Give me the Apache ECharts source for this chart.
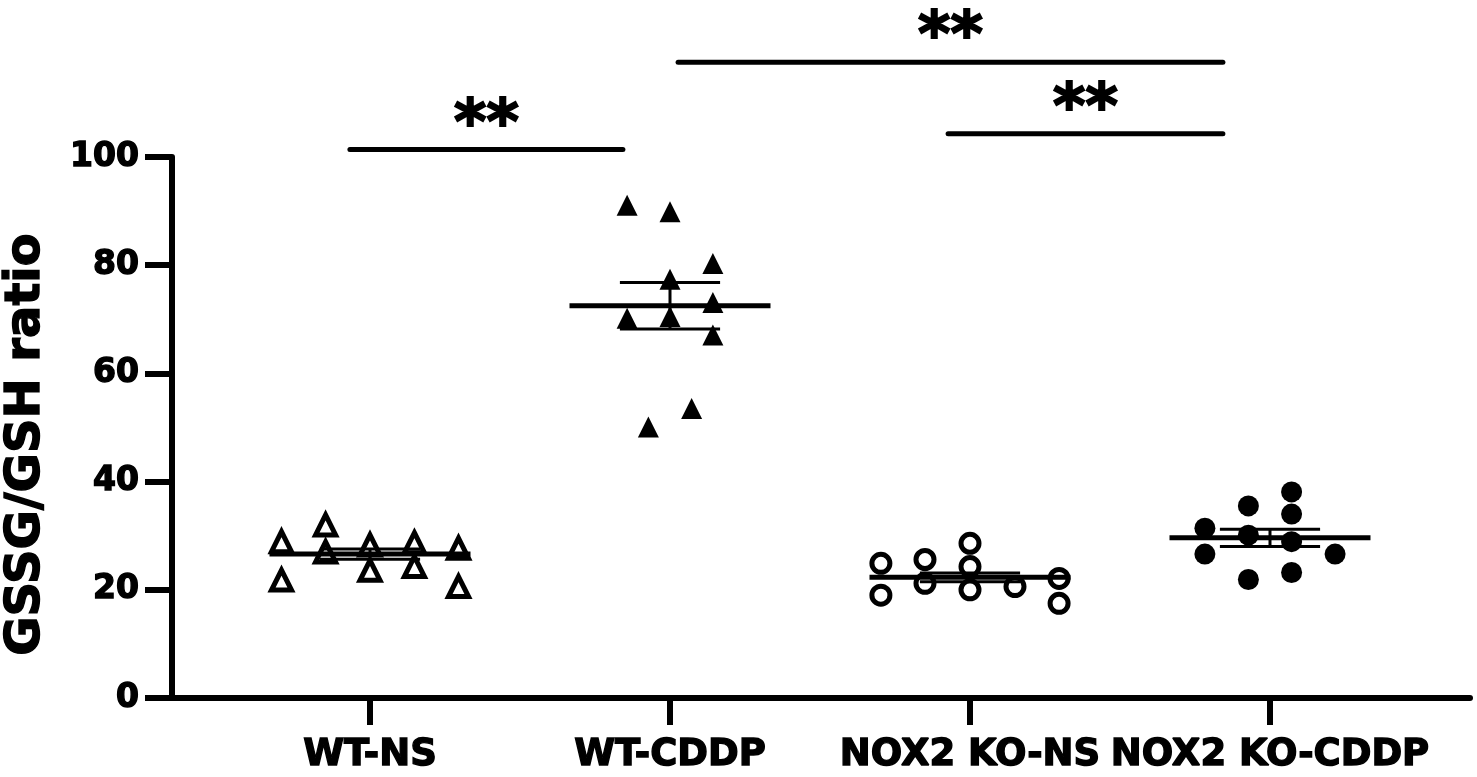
<!DOCTYPE html>
<html><head><meta charset="utf-8">
<script src="https://cdn.jsdelivr.net/npm/echarts@6/dist/echarts.min.js"></script>
<style>html,body{margin:0;padding:0;background:#fff}#c{width:1477px;height:777px}</style>
</head><body><div id="c"></div>
<script>
// ---- data ----
const categories = ['WT-NS', 'WT-CDDP', 'NOX2 KO-NS', 'NOX2 KO-CDDP'];
const yTicks = [0, 20, 40, 60, 80, 100];
const yTitle = 'GSSG/GSH ratio';

// jitter offsets (in category units) and values per group
const wtNsJitter = [-0.295, -0.295, -0.148, -0.148, 0, 0, 0.148, 0.148, 0.295, 0.295];
const wtNsValues = [28.9, 21.8, 32.0, 27.0, 28.3, 23.6, 28.7, 24.3, 27.7, 20.6];

const wtCddpJitter = [-0.143, -0.143, -0.072, 0, 0, 0, 0.072, 0.143, 0.143, 0.143];
const wtCddpValues = [91.1, 70.2, 50.1, 89.9, 77.4, 70.5, 53.5, 80.3, 73.1, 67.1];

const koNsJitter = [-0.297, -0.297, -0.15, -0.15, 0, 0, 0, 0.15, 0.297, 0.297];
const koNsValues = [24.9, 19.0, 25.6, 21.2, 28.6, 24.3, 20.0, 20.6, 22.1, 17.5];

const koCddpJitter = [-0.217, -0.217, -0.072, -0.072, -0.072, 0.072, 0.072, 0.072, 0.072, 0.217];
const koCddpValues = [31.4, 26.6, 35.5, 30.1, 21.9, 38.1, 34.0, 28.9, 23.2, 26.6];

const groupMeans = [26.6, 72.5, 22.3, 29.6];
const groupSems = [0.95, 4.3, 0.8, 1.6];

// significance brackets (x in category units, y in data units)
const sigFrom = [0.933, 2.027, 2.927];
const sigTo = [1.843, 3.843, 3.843];
const sigY = [101.4, 117.5, 104.3];
const sigLabels = ['**', '**', '**'];

// ---- build ----
const FONT = '"DejaVu Sans", sans-serif';
const HEAVY = {textBorderColor: '#000', textBorderWidth: 1.4};
function pts(groupIdx, jit, vals) {
  return vals.map((v, i) => [groupIdx + 1 + jit[i], v]);
}

const chart = echarts.init(document.getElementById('c'), null, {renderer: 'canvas'});
const option = {
  backgroundColor: '#fff',
  animation: false,
  grid: {left: 172, right: 7, top: 157, bottom: 79, containLabel: false, outerBoundsMode: 'none'},
  xAxis: {
    type: 'value', min: 0.34, max: 4.6667,
    splitLine: {show: false},
    axisLine: {show: true, onZero: false, lineStyle: {color: '#000', width: 6}},
    axisTick: {show: true, customValues: [1, 2, 3, 4], length: 27, lineStyle: {color: '#000', width: 6}},
    axisLabel: Object.assign({
      show: true, customValues: [1, 2, 3, 4], margin: 39,
      formatter: v => categories[Math.round(v) - 1] || '',
      color: '#000', fontFamily: FONT, fontWeight: 'bold', fontSize: 37
    }, HEAVY)
  },
  yAxis: {
    type: 'value', min: yTicks[0], max: yTicks[yTicks.length - 1], interval: 20,
    splitLine: {show: false},
    axisLine: {show: true, lineStyle: {color: '#000', width: 6}},
    axisTick: {show: true, length: 27, lineStyle: {color: '#000', width: 6}},
    axisLabel: Object.assign({color: '#000', fontFamily: FONT, fontWeight: 'bold', fontSize: 33, margin: 33}, HEAVY),
    name: yTitle, nameLocation: 'middle', nameRotate: 90, nameGap: 121,
    nameTextStyle: Object.assign({color: '#000', fontFamily: FONT, fontWeight: 'bold', fontSize: 48, padding: [0, 34, 0, 0]}, HEAVY)
  },
  series: [
    {type: 'scatter', name: categories[0], data: pts(0, wtNsJitter, wtNsValues),
      symbol: 'triangle', symbolSize: 20,
      itemStyle: {color: '#fff', borderColor: '#000', borderWidth: 5, opacity: 1}, z: 2},
    {type: 'scatter', name: categories[1], data: pts(1, wtCddpJitter, wtCddpValues),
      symbol: 'triangle', symbolSize: 21,
      itemStyle: {color: '#000', opacity: 1}, z: 2},
    {type: 'scatter', name: categories[2], data: pts(2, koNsJitter, koNsValues),
      symbol: 'circle', symbolSize: 18,
      itemStyle: {color: '#fff', borderColor: '#000', borderWidth: 5, opacity: 1}, z: 2},
    {type: 'scatter', name: categories[3], data: pts(3, koCddpJitter, koCddpValues),
      symbol: 'circle', symbolSize: 21,
      itemStyle: {color: '#000', opacity: 1}, z: 2},
    {
      type: 'custom', name: 'mean', z: 5, clip: false,
      data: groupMeans.map((m, i) => [i + 1, m, groupSems[i]]),
      encode: {x: 0, y: 1},
      renderItem: function (params, api) {
        const x = api.value(0), m = api.value(1), s = api.value(2);
        const L = (p, q, w) => ({type: 'line', shape: {x1: p[0], y1: p[1], x2: q[0], y2: q[1]},
          style: {stroke: '#000', lineWidth: w}});
        return {type: 'group', children: [
          L(api.coord([x - 0.167, m + s]), api.coord([x + 0.167, m + s]), 3),
          L(api.coord([x - 0.167, m - s]), api.coord([x + 0.167, m - s]), 3),
          L(api.coord([x, m + s]), api.coord([x, m - s]), 3),
          L(api.coord([x - 0.335, m]), api.coord([x + 0.335, m]), 5)
        ]};
      }
    },
    {
      type: 'custom', name: 'sig', z: 5, clip: false,
      data: sigFrom.map((f, i) => [f, sigTo[i], sigY[i]]),
      encode: {x: [0, 1], y: 2},
      renderItem: function (params, api) {
        const p = api.coord([api.value(0), api.value(2)]);
        const q = api.coord([api.value(1), api.value(2)]);
        return {type: 'group', children: [
          {type: 'line', shape: {x1: p[0], y1: p[1], x2: q[0], y2: q[1]},
            style: {stroke: '#000', lineWidth: 5, lineCap: 'round'}},
          {type: 'text', x: (p[0] + q[0]) / 2, y: p[1] - 23,
            style: {text: sigLabels[params.dataIndex], fill: '#000',
              stroke: '#000', lineWidth: 2,
              font: 'bold 62px ' + FONT, align: 'center', verticalAlign: 'middle'}}
        ]};
      }
    }
  ]
};
chart.setOption(option);
</script>
</body></html>
